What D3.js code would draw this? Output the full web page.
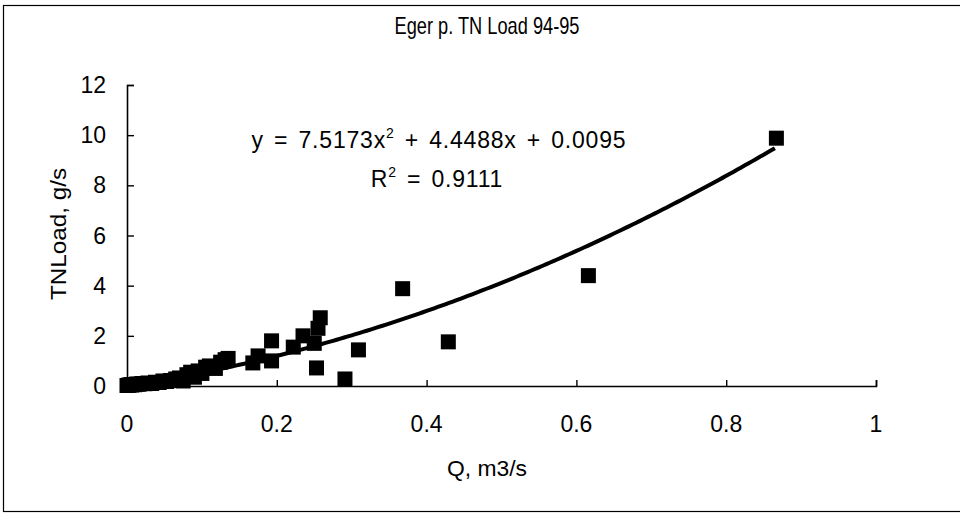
<!DOCTYPE html>
<html>
<head>
<meta charset="utf-8">
<script src="https://cdnjs.cloudflare.com/ajax/libs/d3/7.8.5/d3.min.js"></script>
<style>
    body { margin: 0; background: #fff; }
    text { font-family: "Liberation Sans", Arial, sans-serif; fill: #000; }
</style>
</head>
<body>
<div id="chart"></div>
<script>
// discharge Q (m3/s) and TN load (g/s)
const qValues = [0.000, 0.002, 0.004, 0.006, 0.008, 0.010, 0.013, 0.016, 0.020, 0.024,
    0.028, 0.033, 0.038, 0.043, 0.048, 0.053, 0.058, 0.065, 0.070, 0.075,
    0.080, 0.085, 0.090, 0.095, 0.100, 0.105, 0.110, 0.118, 0.125, 0.131,
    0.135, 0.168, 0.175, 0.193, 0.193, 0.222, 0.235, 0.250, 0.255, 0.258,
    0.253, 0.291, 0.309, 0.368, 0.429, 0.616, 0.867];
const loadValues = [0.02, 0.03, 0.05, 0.04, 0.06, 0.05, 0.08, 0.07, 0.10, 0.09,
    0.12, 0.10, 0.15, 0.14, 0.20, 0.18, 0.22, 0.28, 0.32, 0.20,
    0.45, 0.55, 0.35, 0.60, 0.50, 0.75, 0.80, 0.70, 0.95, 1.05,
    1.10, 0.92, 1.20, 1.80, 1.00, 1.55, 2.00, 1.70, 2.30, 2.72,
    0.72, 0.28, 1.44, 3.88, 1.76, 4.40, 9.88];

// polynomial trend line y = a x^2 + b x + c
const trendCoef = [7.5173, 4.4488, 0.0095];

const xTicks = [0, 0.2, 0.4, 0.6, 0.8, 1];
const yTicks = [0, 2, 4, 6, 8, 10, 12];

const chartTitle = "Eger p. TN Load 94-95";
const xTitle = "Q, m3/s";
const yTitle = "TNLoad, g/s";

class TnLoadChart {

    constructor(_parentElement) {
        this.parentElement = _parentElement;
        this.data = qValues.map((q, i) => ({ q: q, load: loadValues[i] }));
        this.initVis();
    }

    initVis() {
        let vis = this;

        vis.width = 960;
        vis.height = 519;

        vis.svg = d3.select("#" + vis.parentElement).append("svg")
            .attr("width", vis.width)
            .attr("height", vis.height);

        // outer frame of the chart area (right edge runs off the page)
        vis.svg.append("rect")
            .attr("x", 3.5)
            .attr("y", 5.5)
            .attr("width", 962)
            .attr("height", 506)
            .attr("fill", "none")
            .attr("stroke", "#000")
            .attr("stroke-width", 1.2);

        vis.xScale = d3.scaleLinear().domain([0, 1]).range([127, 876]);
        vis.yScale = d3.scaleLinear().domain([0, 12]).range([386, 85]);

        vis.updateVis();
    }

    updateVis() {
        let vis = this;

        // axes with inside ticks, labels placed separately
        const xAxis = d3.axisTop(vis.xScale).tickValues(xTicks).tickSize(6).tickFormat("");
        const yAxis = d3.axisRight(vis.yScale).tickValues(yTicks).tickSize(7).tickFormat("");

        vis.svg.append("g")
            .attr("class", "x-axis")
            .attr("transform", "translate(0," + vis.yScale(0) + ")")
            .call(xAxis)
            .call(g => g.select(".domain").attr("stroke-width", 1.6))
            .call(g => g.selectAll(".tick line").attr("stroke-width", 1.4));

        vis.svg.append("g")
            .attr("class", "y-axis")
            .attr("transform", "translate(" + vis.xScale(0) + ",0)")
            .call(yAxis)
            .call(g => g.select(".domain").attr("stroke-width", 1.6))
            .call(g => g.selectAll(".tick line").attr("stroke-width", 1.4));

        vis.svg.selectAll(".x-label")
            .data(xTicks)
            .enter()
            .append("text")
            .attr("class", "x-label")
            .attr("x", d => vis.xScale(d))
            .attr("y", vis.yScale(0) + 46)
            .attr("text-anchor", "middle")
            .style("font-size", "23px")
            .text(d => d);

        vis.svg.selectAll(".y-label")
            .data(yTicks)
            .enter()
            .append("text")
            .attr("class", "y-label")
            .attr("x", 106)
            .attr("y", d => vis.yScale(d) + 8)
            .attr("text-anchor", "end")
            .style("font-size", "23px")
            .text(d => d);

        // trend curve
        const curveQ = d3.range(0, 0.8671, 0.005);
        const trend = d3.line()
            .x(d => vis.xScale(d))
            .y(d => vis.yScale(trendCoef[0] * d * d + trendCoef[1] * d + trendCoef[2]));

        // markers
        const size = 15;
        vis.svg.selectAll(".point")
            .data(vis.data)
            .enter()
            .append("rect")
            .attr("class", "point")
            .attr("x", d => vis.xScale(d.q) - size / 2)
            .attr("y", d => vis.yScale(d.load) - size / 2)
            .attr("width", size)
            .attr("height", size)
            .style("fill", "#000");

        vis.svg.append("path")
            .datum(curveQ)
            .attr("d", trend)
            .attr("fill", "none")
            .attr("stroke", "#000")
            .attr("stroke-width", 4);

        // titles, squeezed to the narrow face of the scan
        vis.svg.append("text")
            .attr("x", 487)
            .attr("y", 34)
            .attr("text-anchor", "middle")
            .attr("textLength", 185)
            .attr("lengthAdjust", "spacingAndGlyphs")
            .style("font-size", "24px")
            .text(chartTitle);

        vis.svg.append("text")
            .attr("x", 487)
            .attr("y", 476)
            .attr("text-anchor", "middle")
            .attr("textLength", 80)
            .attr("lengthAdjust", "spacingAndGlyphs")
            .style("font-size", "22px")
            .text(xTitle);

        vis.svg.append("text")
            .attr("transform", "translate(66,234) rotate(-90)")
            .attr("text-anchor", "middle")
            .attr("textLength", 132)
            .attr("lengthAdjust", "spacingAndGlyphs")
            .style("font-size", "22px")
            .text(yTitle);

        // regression equation
        const eq = vis.svg.append("text")
            .attr("x", 439)
            .attr("y", 148)
            .attr("text-anchor", "middle")
            .style("font-size", "23px")
            .style("letter-spacing", "0.8px")
            .style("word-spacing", "3px");
        eq.append("tspan").text("y = 7.5173x");
        eq.append("tspan").attr("dy", -10).style("font-size", "14px").text("2");
        eq.append("tspan").attr("dy", 10).text(" + 4.4488x + 0.0095");

        const r2 = vis.svg.append("text")
            .attr("x", 437)
            .attr("y", 187)
            .attr("text-anchor", "middle")
            .style("font-size", "23px")
            .style("letter-spacing", "0.8px")
            .style("word-spacing", "3px");
        r2.append("tspan").text("R");
        r2.append("tspan").attr("dy", -10).style("font-size", "14px").text("2");
        r2.append("tspan").attr("dy", 10).text(" = 0.9111");
    }
}

new TnLoadChart("chart");
</script>
</body>
</html>
